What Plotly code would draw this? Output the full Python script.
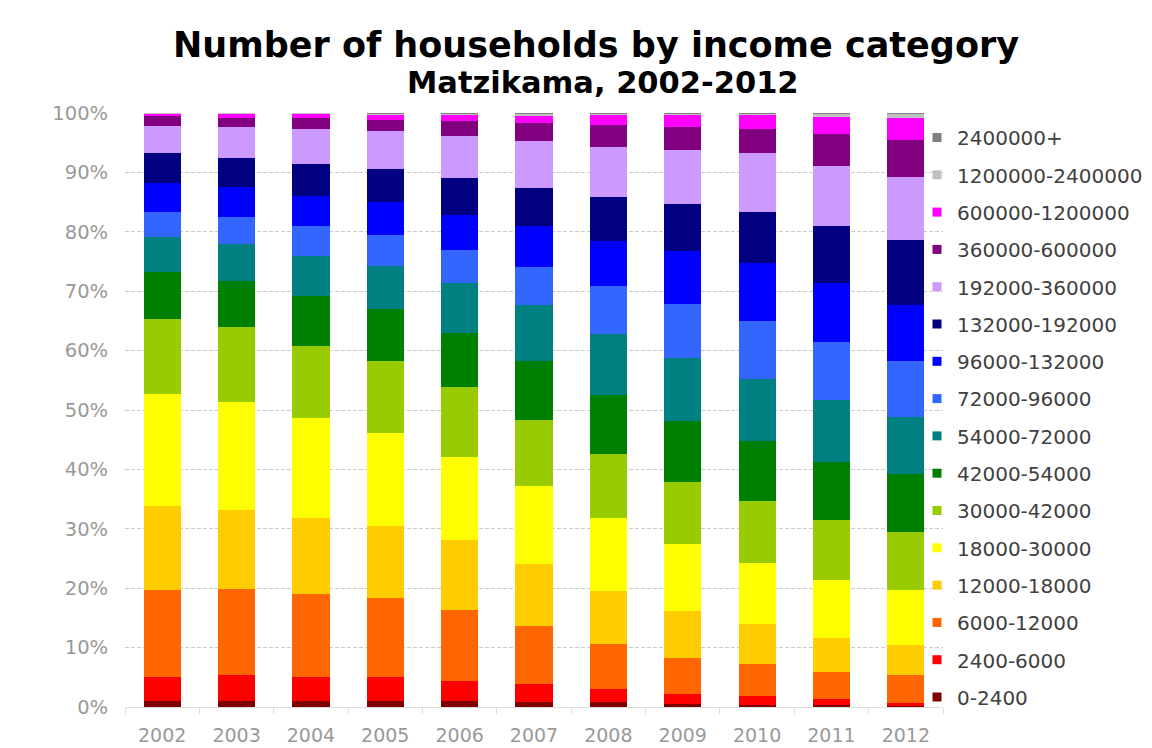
import plotly.graph_objects as go

years = ["2002", "2003", "2004", "2005", "2006", "2007", "2008", "2009", "2010", "2011", "2012"]

categories = ["0-2400", "2400-6000", "6000-12000", "12000-18000", "18000-30000",
              "30000-42000", "42000-54000", "54000-72000", "72000-96000",
              "96000-132000", "132000-192000", "192000-360000", "360000-600000",
              "600000-1200000", "1200000-2400000", "2400000+"]

ytick_vals = [0, 10, 20, 30, 40, 50, 60, 70, 80, 90, 100]
ytick_text = ["0%", "10%", "20%", "30%", "40%", "50%", "60%", "70%", "80%", "90%", "100%"]

# share of households (%) per income category, per year
inc_0_2400          = [1.0, 1.0, 1.0, 1.0, 1.0, 0.9, 0.9, 0.5, 0.4, 0.3, 0.2]
inc_2400_6000       = [4.1, 4.4, 4.1, 4.1, 3.4, 2.9, 2.1, 1.7, 1.5, 1.0, 0.4]
inc_6000_12000      = [14.6, 14.5, 14.0, 13.2, 12.0, 9.8, 7.6, 6.0, 5.3, 4.6, 4.8]
inc_12000_18000     = [14.2, 13.3, 12.7, 12.2, 11.7, 10.5, 9.0, 8.0, 6.7, 5.8, 5.0]
inc_18000_30000     = [18.8, 18.1, 16.8, 15.7, 14.0, 13.1, 12.2, 11.2, 10.3, 9.7, 9.3]
inc_30000_42000     = [12.6, 12.6, 12.2, 12.1, 11.7, 11.2, 10.8, 10.5, 10.4, 10.0, 9.8]
inc_42000_54000     = [8.0, 7.9, 8.4, 8.7, 9.2, 9.9, 9.9, 10.2, 10.2, 9.9, 9.7]
inc_54000_72000     = [5.8, 6.1, 6.8, 7.3, 8.3, 9.3, 10.3, 10.6, 10.4, 10.4, 9.6]
inc_72000_96000     = [4.2, 4.6, 4.9, 5.2, 5.6, 6.5, 8.1, 9.1, 9.7, 9.7, 9.4]
inc_96000_132000    = [4.9, 5.0, 5.2, 5.6, 5.9, 6.8, 7.6, 9.0, 9.8, 9.9, 9.4]
inc_132000_192000   = [5.0, 5.0, 5.3, 5.5, 6.2, 6.5, 7.3, 7.8, 8.6, 9.6, 11.0]
inc_192000_360000   = [4.6, 5.1, 5.9, 6.4, 7.1, 7.9, 8.5, 9.2, 9.9, 10.2, 10.7]
inc_360000_600000   = [1.7, 1.6, 1.9, 1.9, 2.6, 3.0, 3.7, 3.9, 4.1, 5.3, 6.2]
inc_600000_1200000  = [0.4, 0.7, 0.7, 0.9, 1.0, 1.2, 1.7, 2.0, 2.4, 2.9, 3.7]
inc_1200000_2400000 = [0.1, 0.1, 0.1, 0.1, 0.2, 0.4, 0.2, 0.2, 0.2, 0.6, 0.7]
inc_2400000_plus    = [0.0, 0.0, 0.0, 0.1, 0.1, 0.1, 0.1, 0.1, 0.1, 0.1, 0.1]

series = [inc_0_2400, inc_2400_6000, inc_6000_12000, inc_12000_18000, inc_18000_30000,
          inc_30000_42000, inc_42000_54000, inc_54000_72000, inc_72000_96000,
          inc_96000_132000, inc_132000_192000, inc_192000_360000, inc_360000_600000,
          inc_600000_1200000, inc_1200000_2400000, inc_2400000_plus]

colors = ["#800000", "#FF0000", "#FF6600", "#FFCC00", "#FFFF00", "#99CC00", "#008000",
          "#008080", "#3366FF", "#0000FF", "#000080", "#CC99FF", "#800080", "#FF00FF",
          "#C0C0C0", "#808080"]

fig = go.Figure()
for name, vals, col in zip(categories, series, colors):
    fig.add_trace(go.Bar(x=years, y=vals, name=name, marker=dict(color=col, line=dict(width=0)),
                         showlegend=False))
# legend entries (top = highest income) with small square markers
for name, col in reversed(list(zip(categories, colors))):
    fig.add_trace(go.Scatter(x=[None], y=[None], mode="markers", name=name, legendgroup=name,
                             marker=dict(symbol="square", size=9, color=col), showlegend=True))

OFF = 8  # page body margin
W, H = 1152 - OFF, 748 - OFF
L, T = 125 - OFF, 113 - OFF
B = 748 - 707
R = 1152 - 943
pw, ph = W - L - R, H - T - B

def px_x(x):
    return (x - OFF - L) / pw

def px_y(y):
    return (H - B - (y - OFF)) / ph

fig.update_layout(
    width=W, height=H,
    margin=dict(l=L, r=R, t=T, b=B, pad=0, autoexpand=False),
    barmode="stack", bargap=0.5,
    plot_bgcolor="white", paper_bgcolor="white",
    font=dict(family="DejaVu Sans", color="#999999"),
    xaxis=dict(type="category", tickson="boundaries", ticks="outside", ticklen=6,
               tickcolor="#dddddd", showline=True, linecolor="#dddddd", linewidth=1,
               tickfont=dict(size=19, color="#999999"), showgrid=False,
               ticklabelstandoff=11, range=[-0.5, 10.5]),
    yaxis=dict(range=[0, 100], tickvals=ytick_vals, ticktext=ytick_text,
               showgrid=True, gridcolor="#cccccc", griddash="4px,2px", gridwidth=1,
               ticks="outside", ticklen=12, tickcolor="rgba(0,0,0,0)",
               tickfont=dict(size=19.5, color="#999999"), zeroline=False, showline=False),
    legend=dict(xref="container", yref="container",
                x=(917 - OFF) / W, xanchor="left", y=1 - (118 - OFF) / H, yanchor="top",
                traceorder="grouped", tracegroupgap=8.3, maxheight=700,
                font=dict(size=20, color="#404040", family="DejaVu Sans"),
                itemwidth=30, bgcolor="rgba(0,0,0,0)"),
    annotations=[
        dict(text="<b>Number of households by income category</b>", x=px_x(596), y=px_y(45),
             xref="paper", yref="paper", showarrow=False, xanchor="center", yanchor="middle",
             font=dict(size=35, color="#000000", family="DejaVu Sans")),
        dict(text="<b>Matzikama, 2002-2012</b>", x=px_x(602.5), y=px_y(82),
             xref="paper", yref="paper", showarrow=False, xanchor="center", yanchor="middle",
             font=dict(size=30.5, color="#000000", family="DejaVu Sans")),
    ],
)

fig.write_html("out.html")
